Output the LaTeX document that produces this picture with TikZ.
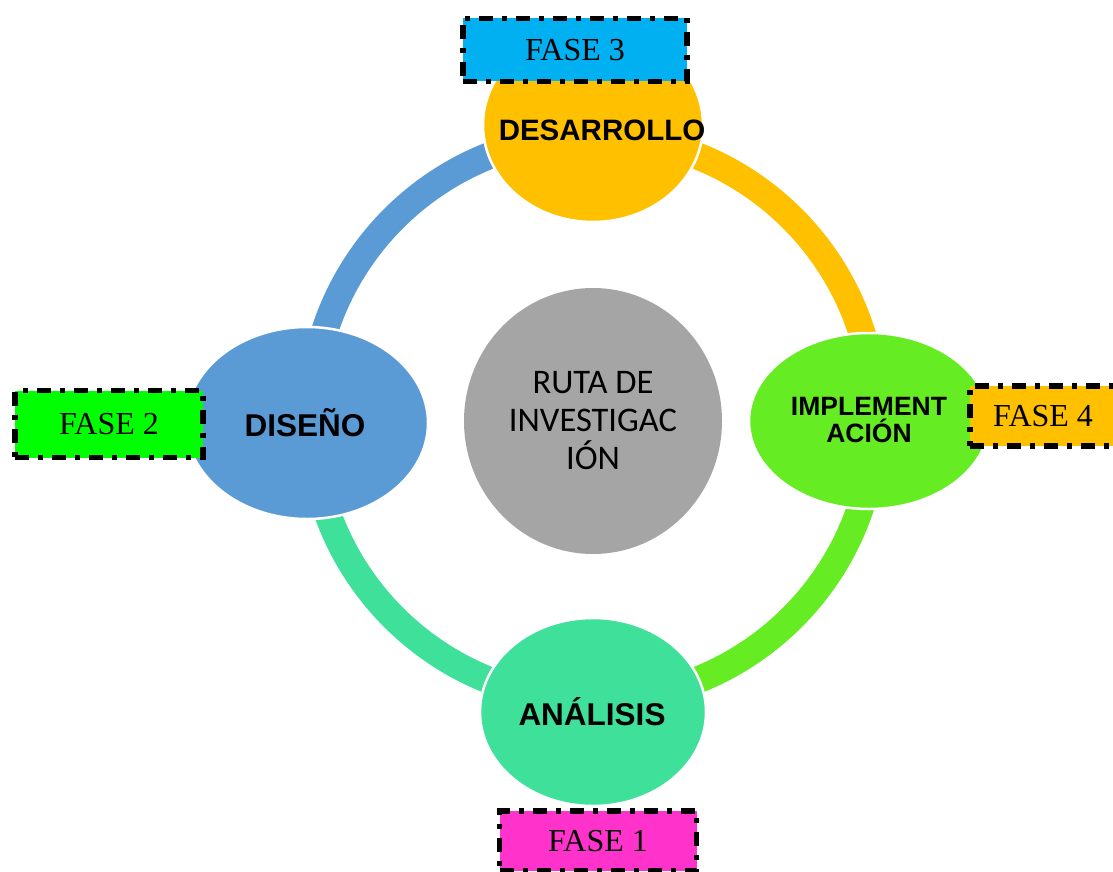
\documentclass[tikz,border=0pt]{standalone}
\usepackage{fontspec}
\setmainfont{Liberation Serif}
\setsansfont{Liberation Sans}
\newfontfamily\calibfont{Carlito}
\usetikzlibrary{shapes.geometric}
\definecolor{cblue}{HTML}{5B9BD5}
\definecolor{corange}{HTML}{FFC000}
\definecolor{clime}{HTML}{65EC22}
\definecolor{cteal}{HTML}{3EE09A}
\definecolor{cgray}{HTML}{A5A5A5}
\definecolor{fcyan}{HTML}{00B0F0}
\definecolor{fgreen}{HTML}{00FF00}
\definecolor{fpink}{HTML}{FF33CC}
\begin{document}
\begin{tikzpicture}[x=1pt,y=-1pt,
  stage/.style={ellipse, draw=white, line width=2.5pt, inner sep=0pt},
  ringarc/.style={line width=27pt},
  lbl/.style={font=\sffamily\bfseries\fontsize{31.5}{34}\selectfont, text=black, align=center},
  fase/.style={draw=black, line width=5.5pt, dash pattern=on 14pt off 9pt on 5pt off 9pt,
    inner sep=0pt, font=\fontsize{32}{36}\selectfont, text=black}]
\useasboundingbox (0,0) rectangle (1113,872);
\fill[white] (0,0) rectangle (1113,872);
\coordinate (O) at (593,418);
% ring arcs
\draw[ringarc, cblue]   ([shift={(90:282pt)}]O)  arc[start angle=90,  end angle=180, radius=282pt];
\draw[ringarc, corange] ([shift={(0:282pt)}]O)   arc[start angle=0,   end angle=90,  radius=282pt];
\draw[ringarc, clime]   ([shift={(270:282pt)}]O) arc[start angle=270, end angle=360, radius=282pt];
\draw[ringarc, cteal]   ([shift={(180:282pt)}]O) arc[start angle=180, end angle=270, radius=282pt];
% stage ellipses
\node[stage, fill=corange, minimum width=220pt, minimum height=194pt] (des) at (593,125) {};
\node[stage, fill=cblue,   minimum width=242pt, minimum height=192pt] (dis) at (307,423) {};
\node[stage, fill=clime,   minimum width=240pt, minimum height=176pt] (imp) at (869,421) {};
\node[stage, fill=cteal,   minimum width=226pt, minimum height=188pt] (ana) at (593,712) {};
% centre
\node[ellipse, fill=cgray, minimum width=258pt, minimum height=266pt, inner sep=0pt,
  align=center, font=\calibfont\fontsize{34.5}{38}\selectfont, text=black] (ruta) at (593,421)
  {RUTA DE\\INVESTIGAC\\IÓN};
% labels
\node[lbl, font=\sffamily\bfseries\fontsize{29.5}{32}\selectfont] (tdes) at (602,130) {DESARROLLO};
\node[lbl] (tdis) at (305,423) {DISEÑO};
\node[lbl] (tana) at (592,712) {ANÁLISIS};
\node[lbl, font=\sffamily\bfseries\fontsize{26.5}{26.5}\selectfont] (timp) at (869,420) {IMPLEMENT\\ACIÓN};
% phase boxes
\node[fase, fill=fcyan,   minimum width=224pt, minimum height=63pt] (f3) at (575,50) {FASE 3};
\node[fase, fill=fgreen,  minimum width=188pt, minimum height=67pt] (f2) at (109,424) {FASE 2};
\node[fase, fill=corange, minimum width=146pt, minimum height=60pt] (f4) at (1043,416) {FASE 4};
\node[fase, fill=fpink,   minimum width=197pt, minimum height=60pt] (f1) at (598,841) {FASE 1};
\end{tikzpicture}
\end{document}
